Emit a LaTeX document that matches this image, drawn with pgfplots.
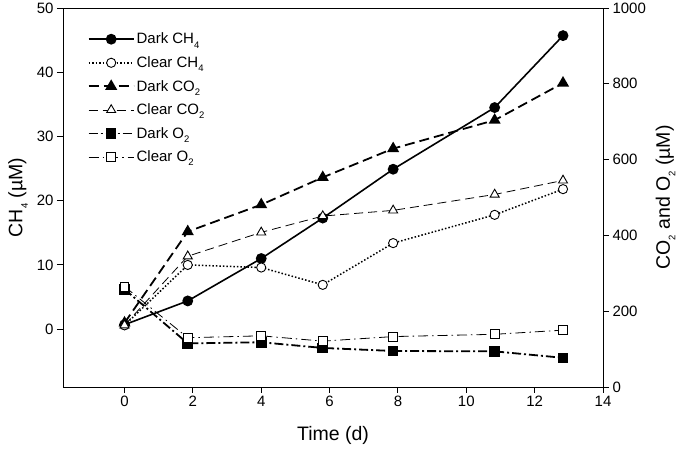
\documentclass[border=0pt]{standalone}
\usepackage{fontspec}
\setmainfont{Liberation Sans}
\usepackage{pgfplots}
\pgfplotsset{compat=1.18}
\usepackage{pgfplotstable}
\newcommand\sub[1]{\raisebox{-0.28em}{\fontsize{9.5}{10}\selectfont #1}}

\pgfplotstableread{
x    dch4  cch4  dco2  cco2  do2  co2
0     0.7   0.6   169   163  258  265
1.85  4.4  10.0   410   345  115  130
4.0  11.0   9.6   481   408  118  135
5.8  17.3   6.9   553   451  103  121
7.86 24.9  13.4   629   466   95  133
10.83 34.5 17.8   704   508   94  139
12.83 45.7 21.8   802   545   77  150
}\data

\pgfplotsset{
  every axis/.append style={
    width=540pt, height=379pt, scale only axis,
    xmin=-1.8, xmax=14,
    tick align=outside, major tick length=6pt,
    axis line style={line width=0.9pt},
    every tick/.style={black, line width=0.9pt},
    tick label style={font=\fontsize{15}{17}\selectfont},
    label style={font=\fontsize{19.5}{22}\selectfont},
    /pgf/number format/assume math mode=true,
    /pgf/number format/1000 sep={},
  },
  mylegimg/.style={legend image code/.code={%
    \draw[mark repeat=2,mark phase=2,##1] plot coordinates {(0pt,0pt) (22.5pt,0pt) (45pt,0pt)};}},
  dch4/.style={black, line width=1.6pt, solid, mark=*, mark size=4.6pt, mark options={solid, fill=black}},
  cch4/.style={black, line width=1.5pt, dash pattern=on 1.5pt off 2pt, mark=*, mark size=4.6pt, mark options={solid, draw=black, fill=white, line width=0.9pt}},
  dco2/.style={black, line width=1.8pt, dash pattern=on 10pt off 5pt, mark=triangle*, mark size=5.2pt, mark options={solid, fill=black}},
  cco2/.style={black, line width=0.8pt, dash pattern=on 9pt off 5pt, mark=triangle*, mark size=5.2pt, mark options={solid, fill=white, line width=0.9pt}},
  do2/.style={black, line width=1.8pt, dash pattern=on 9pt off 3pt on 2pt off 3pt, mark=square*, mark size=4.4pt, mark options={solid, fill=black}},
  cleo2/.style={black, line width=0.8pt, dash pattern=on 10pt off 4pt on 1.5pt off 4pt, mark=square*, mark size=4.4pt, mark options={solid, fill=white, line width=0.9pt}},
}

\begin{document}
\begin{tikzpicture}
\begin{axis}[
  name=ax,
  ymin=-9, ymax=50,
  ytick={0,10,...,50},
  xtick={0,2,...,14},
  xtick pos=bottom, ytick pos=left,
  xlabel={Time (d)},
  xlabel style={yshift=-12pt},
  ylabel={CH\sub{4} (µM)},
  ylabel style={yshift=2pt},
]
\addplot[dch4] table[x=x,y=dch4] {\data};
\addplot[cch4] table[x=x,y=cch4] {\data};
\end{axis}
\begin{axis}[
  ymin=0, ymax=1000,
  ytick={0,200,...,1000},
  axis x line=none,
  axis y line*=right,
  ylabel={CO\sub{2} and O\sub{2} (µM)},
  ylabel style={yshift=-3pt},
  mylegimg,
  legend cell align=left,
  legend style={draw=none, fill=none, at={(rel axis cs:0.040,0.945)}, anchor=north west,
    font=\fontsize{15}{17}\selectfont, row sep=7.2pt,
    /tikz/every even column/.append style={column sep=1pt}},
]
\addlegendimage{dch4}
\addlegendentry{Dark CH\sub{4}}
\addlegendimage{cch4}
\addlegendentry{Clear CH\sub{4}}
\addplot[dco2] table[x=x,y=dco2] {\data};
\addlegendentry{Dark CO\sub{2}}
\addplot[cco2] table[x=x,y=cco2] {\data};
\addlegendentry{Clear CO\sub{2}}
\addplot[do2] table[x=x,y=do2] {\data};
\addlegendentry{Dark O\sub{2}}
\addplot[cleo2] table[x=x,y=co2] {\data};
\addlegendentry{Clear O\sub{2}}
\end{axis}
\pgfresetboundingbox
\path[use as bounding box] (ax.south west) ++(-63pt,-66pt) rectangle ([shift={(80pt,8pt)}]ax.north east);
\end{tikzpicture}
\end{document}
